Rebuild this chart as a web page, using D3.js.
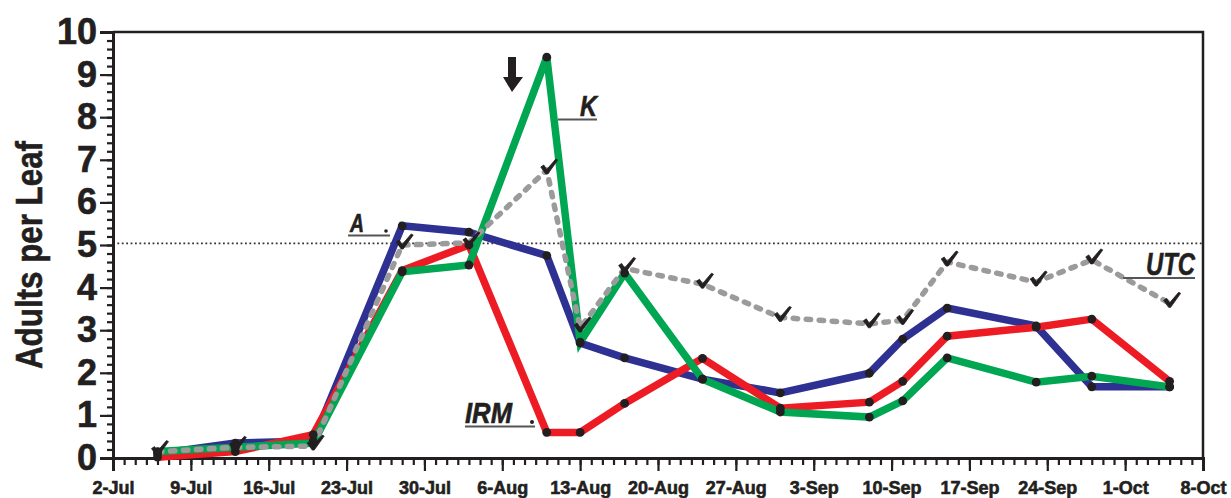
<!DOCTYPE html>
<html>
<head>
<meta charset="utf-8">
<script src="https://cdn.jsdelivr.net/npm/d3@7"></script>
<style>
  body { margin: 0; background: #fff; }
  text { font-family: "Liberation Sans", Arial, sans-serif; }
</style>
</head>
<body>
<svg id="chart" width="1231" height="498"></svg>
<script>
// Sampling dates (one season)
const sampleDates = ["07-06","07-13","07-20","07-28","08-03","08-10","08-13","08-17",
                     "08-24","08-31","09-08","09-11","09-15","09-23","09-28","10-05"];
// Adults per leaf for each treatment
const seriesA   = [0.10, 0.35, 0.40, 5.45, 5.30, 4.75, 2.70, 2.35, 1.85, 1.53, 1.99, 2.79, 3.52, 3.10, 1.67, 1.67];
const seriesIRM = [0.02, 0.15, 0.55, 4.40, 5.00, 0.60, 0.60, 1.28, 2.34, 1.17, 1.31, 1.80, 2.86, 3.07, 3.26, 1.80];
const seriesK   = [0.15, 0.25, 0.35, 4.37, 4.53, 9.41, 2.72, 4.34, 1.85, 1.08, 0.96, 1.34, 2.35, 1.78, 1.92, 1.67];
const seriesUTC = [0.15, 0.25, 0.28, 5.00, 5.05, 6.76, 3.05, 4.45, 4.08, 3.30, 3.15, 3.23, 4.60, 4.13, 4.65, 3.63];
// Axis settings
const yTicks = [0,1,2,3,4,5,6,7,8,9,10];
const xTickLabels = ["2-Jul","9-Jul","16-Jul","23-Jul","30-Jul","6-Aug","13-Aug","20-Aug",
                     "27-Aug","3-Sep","10-Sep","17-Sep","24-Sep","1-Oct","8-Oct"];
const threshold = 5.04;
const yTitle = "Adults per Leaf";

(function draw() {
  const YEAR = 2010;
  const parseMD = s => new Date(Date.UTC(YEAR, +s.slice(0,2) - 1, +s.slice(3)));
  const dates = sampleDates.map(parseMD);
  const xStart = new Date(Date.UTC(YEAR, 6, 2));
  const xEnd = new Date(Date.UTC(YEAR, 9, 8));

  const svg = d3.select("#chart");
  const pLeft = 113, pRight = 1203, pTop = 32, pBottom = 458;
  const ink = "#231F20";
  const heavy = sel => sel.attr("stroke", ink).attr("stroke-width", 0.6).attr("paint-order", "stroke");

  const x = d3.scaleUtc().domain([xStart, xEnd]).range([pLeft, pRight]);
  const y = d3.scaleLinear().domain([0, 10]).range([pBottom, pTop]);

  // Frame: top and right borders
  svg.append("path")
    .attr("d", `M${pLeft},${pTop}H${pRight}V${pBottom}`)
    .attr("fill", "none").attr("stroke", ink).attr("stroke-width", 2.5);

  // Threshold line
  svg.append("line")
    .attr("x1", pLeft).attr("x2", pRight)
    .attr("y1", y(threshold)).attr("y2", y(threshold))
    .attr("stroke", "#333").attr("stroke-width", 1.8)
    .attr("stroke-dasharray", "1.8,2.6");

  // X axis: daily minor ticks, weekly major ticks
  const minorDays = d3.utcDay.range(xStart, d3.utcDay.offset(xEnd, 1));
  const majorDays = d3.utcDay.range(xStart, d3.utcDay.offset(xEnd, 1), 7);
  const fmt = d3.utcFormat("%-d-%b");

  const gxMinor = svg.append("g").attr("transform", `translate(0,${pBottom})`)
    .call(d3.axisBottom(x).tickValues(minorDays).tickSize(7).tickFormat(""));
  const gxMajor = svg.append("g").attr("transform", `translate(0,${pBottom})`)
    .call(d3.axisBottom(x).tickValues(majorDays).tickSize(13).tickPadding(10)
          .tickFormat((d, i) => xTickLabels[i] || fmt(d)));
  [gxMinor, gxMajor].forEach(g => {
    g.selectAll("line").attr("stroke", ink).attr("stroke-width", 2.2);
    g.select(".domain").attr("stroke", ink).attr("stroke-width", 3);
  });
  gxMajor.selectAll("text")
    .attr("fill", ink).attr("font-size", 18).attr("font-weight", "bold")
    .attr("font-family", "'Liberation Sans', Arial, sans-serif")
    .call(heavy);

  // Y axis: minor ticks every 0.2, labelled unit ticks
  const gyMinor = svg.append("g").attr("transform", `translate(${pLeft},0)`)
    .call(d3.axisLeft(y).tickValues(d3.range(0, 51).map(v => v / 5)).tickSize(6).tickFormat(""));
  const gyMajor = svg.append("g").attr("transform", `translate(${pLeft},0)`)
    .call(d3.axisLeft(y).tickValues(yTicks).tickSize(13).tickPadding(3).tickFormat(d3.format("d")));
  [gyMinor, gyMajor].forEach(g => {
    g.selectAll("line").attr("stroke", ink).attr("stroke-width", 2.2);
    g.select(".domain").attr("stroke", ink).attr("stroke-width", 3);
  });
  gyMajor.selectAll("text")
    .attr("fill", ink).attr("font-size", 36).attr("font-weight", "bold")
    .attr("dy", "0.32em")
    .attr("font-family", "'Liberation Sans', Arial, sans-serif")
    .call(heavy);

  // Y title
  svg.append("text")
    .attr("transform", `translate(42,${(pTop + pBottom) / 2 + 10}) rotate(-90)`)
    .attr("text-anchor", "middle")
    .attr("font-size", 36).attr("font-weight", "bold").attr("fill", ink)
    .attr("textLength", 228).attr("lengthAdjust", "spacingAndGlyphs")
    .text(yTitle).call(heavy);

  // Series lines
  const line = d3.line().x((d, i) => x(dates[i])).y(d => y(d));
  const solid = [
    { values: seriesA,   color: "#2E3192" },
    { values: seriesIRM, color: "#ED1C24" },
    { values: seriesK,   color: "#00A651" }
  ];
  solid.forEach(s => {
    svg.append("path").datum(s.values)
      .attr("d", line).attr("fill", "none")
      .attr("stroke", s.color).attr("stroke-width", 7.5)
      .attr("stroke-linejoin", "miter");
  });
  svg.append("path").datum(seriesUTC)
    .attr("d", line).attr("fill", "none")
    .attr("stroke", "#9B9B9B").attr("stroke-width", 5.5)
    .attr("stroke-linecap", "round").attr("stroke-linejoin", "round")
    .attr("stroke-dasharray", "4.5,8.5");

  // Point markers
  solid.forEach(s => {
    svg.append("g").selectAll("circle").data(s.values).join("circle")
      .attr("cx", (d, i) => x(dates[i])).attr("cy", d => y(d))
      .attr("r", 4.4).attr("fill", ink);
  });
  // Check-mark markers for UTC (filled calligraphic tick)
  svg.append("g").selectAll("path").data(seriesUTC).join("path")
    .attr("transform", (d, i) => `translate(${x(dates[i]) + 2},${y(d) - 2})`)
    .attr("d", "M-8,-1 L-5,-3 L-2,1.5 L7,-9 L9,-8 L-1,6 L-3,6 Z")
    .attr("fill", ink).attr("stroke", ink).attr("stroke-width", 0.8)
    .attr("stroke-linejoin", "round");

  // Series labels with underline leaders
  function label(txt, tx, ty, size, len, ux1, ux2, uy) {
    svg.append("text").attr("x", tx).attr("y", ty)
      .attr("font-size", size).attr("font-weight", "bold").attr("font-style", "italic")
      .attr("fill", ink).attr("textLength", len).attr("lengthAdjust", "spacingAndGlyphs")
      .text(txt).call(heavy);
    svg.append("line").attr("x1", ux1).attr("x2", ux2).attr("y1", uy).attr("y2", uy)
      .attr("stroke", "#555").attr("stroke-width", 1.8);
  }
  label("A", 350, 232, 25, 14, 348, 390, 235.5);
  svg.append("circle").attr("cx", 386).attr("cy", 231).attr("r", 1.8).attr("fill", ink);
  label("K", 580, 116, 29, 17, 558, 597, 119.5);
  label("IRM", 465, 423, 29, 47, 465, 535, 426.5);
  svg.append("circle").attr("cx", 532).attr("cy", 422).attr("r", 2).attr("fill", ink);
  label("UTC", 1146, 275, 31, 49, 1123, 1195, 278);

  // Arrow marking the treatment date
  svg.append("path")
    .attr("d", "M508,57 H516 V77 H523 L512,92 L503,77 H508 Z")
    .attr("fill", ink);
})();
</script>
</body>
</html>
